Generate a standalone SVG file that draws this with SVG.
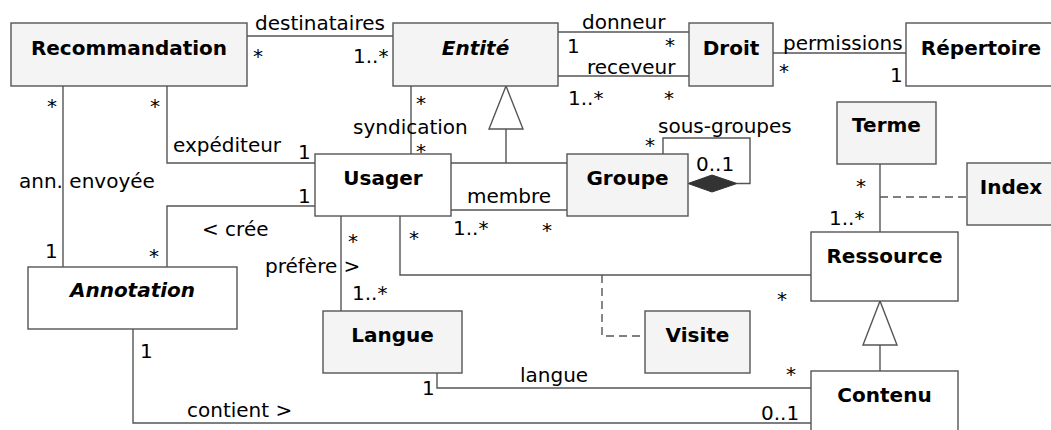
<svg xmlns="http://www.w3.org/2000/svg" width="1051" height="430" viewBox="0 0 1051 430">
<style>
text{font-family:"DejaVu Sans","Liberation Sans",sans-serif;font-size:20px;fill:#000}
.cls{stroke:#555;stroke-width:1.4}
.g{fill:#f4f4f4}
.w{fill:#fff}
.name{font-weight:bold;text-anchor:middle}
.it{font-style:italic}
.ln{fill:none;stroke:#555;stroke-width:1.4}
.dash{fill:none;stroke:#555;stroke-width:1.4;stroke-dasharray:8 5}
</style>
<rect width="1051" height="430" fill="#fff"/>
<g id="connectors">
<path class="ln" d="M247,36H393"/>
<path class="ln" d="M558,32H689"/>
<path class="ln" d="M558,76H689"/>
<path class="ln" d="M773,53H906"/>
<path class="ln" d="M63,86V267"/>
<path class="ln" d="M167,86V163H315"/>
<path class="ln" d="M315,206H167V267"/>
<path class="ln" d="M411,86V154"/>
<path class="ln" d="M451,163H567M506,163V129"/>
<polygon class="ln" style="fill:#fff" points="506,86 489,129 523,129"/>
<path class="ln" d="M451,210H567"/>
<path class="ln" d="M663,154V138H750V183.5H737"/>
<polygon points="688,183.5 712,175 737,183.5 712,192" fill="#333" stroke="#333" stroke-width="1"/>
<path class="ln" d="M880,164V232"/>
<path class="dash" d="M880,197H967"/>
<path class="ln" d="M400,216V275H811"/>
<path class="dash" d="M602,275V336H645"/>
<path class="ln" d="M341,216V311"/>
<path class="ln" d="M437,373V388H811"/>
<path class="ln" d="M133,329V423H811"/>
<path class="ln" d="M880,371V345"/>
<polygon class="ln" style="fill:#fff" points="880,301 863,345 897,345"/>
</g>
<g id="labels">
<text x="255" y="30">destinataires</text>
<text x="253" y="63">*</text>
<text x="353" y="63">1..*</text>
<text x="582" y="29">donneur</text>
<text x="567" y="53">1</text>
<text x="665" y="52">*</text>
<text x="587" y="74">receveur</text>
<text x="568" y="105">1..*</text>
<text x="664" y="105">*</text>
<text x="783" y="50">permissions</text>
<text x="779" y="78">*</text>
<text x="890" y="82">1</text>
<text x="47" y="113">*</text>
<text x="150" y="113">*</text>
<text x="173" y="152">expéditeur</text>
<text x="298" y="159">1</text>
<text x="353" y="134">syndication</text>
<text x="416" y="110">*</text>
<text x="416" y="158">*</text>
<text x="658" y="133">sous-groupes</text>
<text x="645" y="152">*</text>
<text x="696" y="171">0..1</text>
<text x="19" y="188">ann. envoyée</text>
<text x="45" y="258">1</text>
<text x="149" y="263">*</text>
<text x="202" y="236">&lt; crée</text>
<text x="298" y="203">1</text>
<text x="467" y="203">membre</text>
<text x="453" y="235">1..*</text>
<text x="542" y="237">*</text>
<text x="409" y="245">*</text>
<text x="348" y="248">*</text>
<text x="265" y="273">préfère &gt;</text>
<text x="352" y="300">1..*</text>
<text x="777" y="306">*</text>
<text x="856" y="193">*</text>
<text x="829" y="225">1..*</text>
<text x="520" y="382">langue</text>
<text x="422" y="395">1</text>
<text x="786" y="381">*</text>
<text x="140" y="358">1</text>
<text x="187" y="417">contient &gt;</text>
<text x="761" y="420">0..1</text>
</g>
<g id="Recommandation"><rect class="cls g" x="11" y="23" width="236" height="63"/><text class="name" x="129" y="55">Recommandation</text></g>
<g id="Entite"><rect class="cls g" x="393" y="23" width="165" height="63"/><text class="name it" x="475.5" y="55">Entité</text></g>
<g id="Droit"><rect class="cls g" x="689" y="23" width="84" height="63"/><text class="name" x="731" y="55">Droit</text></g>
<g id="Repertoire"><rect class="cls w" x="906" y="23" width="150" height="63"/><text class="name" x="981" y="55">Répertoire</text></g>
<g id="Terme"><rect class="cls g" x="837" y="102" width="99" height="62"/><text class="name" x="886.5" y="132">Terme</text></g>
<g id="Index"><rect class="cls g" x="967" y="163" width="90" height="62"/><text class="name" x="1011" y="194">Index</text></g>
<g id="Usager"><rect class="cls w" x="315" y="154" width="136" height="62"/><text class="name" x="383" y="185">Usager</text></g>
<g id="Groupe"><rect class="cls g" x="567" y="154" width="121" height="62"/><text class="name" x="627.5" y="185">Groupe</text></g>
<g id="Ressource"><rect class="cls w" x="811" y="232" width="147" height="69"/><text class="name" x="884.5" y="263">Ressource</text></g>
<g id="Annotation"><rect class="cls w" x="28" y="267" width="209" height="62"/><text class="name it" x="132.5" y="297">Annotation</text></g>
<g id="Langue"><rect class="cls g" x="323" y="311" width="139" height="62"/><text class="name" x="392.5" y="342">Langue</text></g>
<g id="Visite"><rect class="cls g" x="645" y="311" width="105" height="62"/><text class="name" x="697.5" y="342">Visite</text></g>
<g id="Contenu"><rect class="cls w" x="811" y="371" width="147" height="80"/><text class="name" x="884.5" y="402">Contenu</text></g>
</svg>
